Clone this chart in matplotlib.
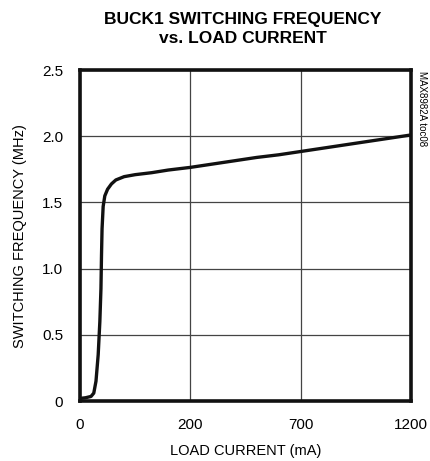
import numpy as np
import matplotlib.pyplot as plt

# load current (mA) and switching frequency (MHz)
current = [0, 10, 20, 25, 29, 33, 36, 38, 39, 40, 42, 45, 50, 57, 65, 80, 100,
           130, 160, 200, 300, 400, 500, 600, 700, 800, 900, 1000, 1100, 1200]
freq = [0.02, 0.025, 0.035, 0.06, 0.15, 0.35, 0.6, 0.85, 1.1, 1.3, 1.47, 1.55,
        1.60, 1.64, 1.67, 1.695, 1.71, 1.725, 1.745, 1.765, 1.79, 1.815,
        1.84, 1.86, 1.885, 1.91, 1.935, 1.96, 1.985, 2.01]

xticks = [0, 200, 700, 1200]
yticks = [0, 0.5, 1.0, 1.5, 2.0, 2.5]
ylabels = ["0", "0.5", "1.0", "1.5", "2.0", "2.5"]

# the x axis is piecewise linear: 0-200, 200-700, 700-1200 get equal width
breaks = [0, 200, 700, 1200]
slots = [0, 1, 2, 3]


def fwd(x):
    return np.interp(x, breaks, slots)


def inv(s):
    return np.interp(s, slots, breaks)


plt.rcParams['font.family'] = ['Liberation Sans', 'DejaVu Sans']

fig = plt.figure(figsize=(4.3, 4.61), dpi=100)
ax = fig.add_axes([0.186, 0.130, 0.770, 0.718])
ax.set_xscale('function', functions=(fwd, inv))

ax.plot(current, freq, color='#111111', lw=2.4, solid_capstyle='round')

ax.set_xlim(0, 1200)
ax.set_ylim(0, 2.5)
ax.set_xticks(xticks)
ax.set_xticklabels([str(v) for v in xticks])
ax.set_yticks(yticks)
ax.set_yticklabels(ylabels)
ax.minorticks_off()
ax.tick_params(length=0, labelsize=11, pad=12)
ax.grid(True, color='#444444', lw=0.9)

for s in ax.spines.values():
    s.set_linewidth(2.6)
    s.set_color('#111111')

ax.set_xlabel("LOAD CURRENT (mA)", fontsize=10.5, labelpad=9)
ax.set_ylabel("SWITCHING FREQUENCY (MHz)", fontsize=10.5, labelpad=11)

fig.text(0.565, 0.975, "BUCK1 SWITCHING FREQUENCY\nvs. LOAD CURRENT",
         ha='center', va='top', fontsize=12.5, fontweight='bold',
         linespacing=1.4)
fig.text(0.982, 0.845, "MAX8982A toc08", rotation=270, ha='center', va='top',
         fontsize=7)

fig.savefig("out.png", dpi=100)
